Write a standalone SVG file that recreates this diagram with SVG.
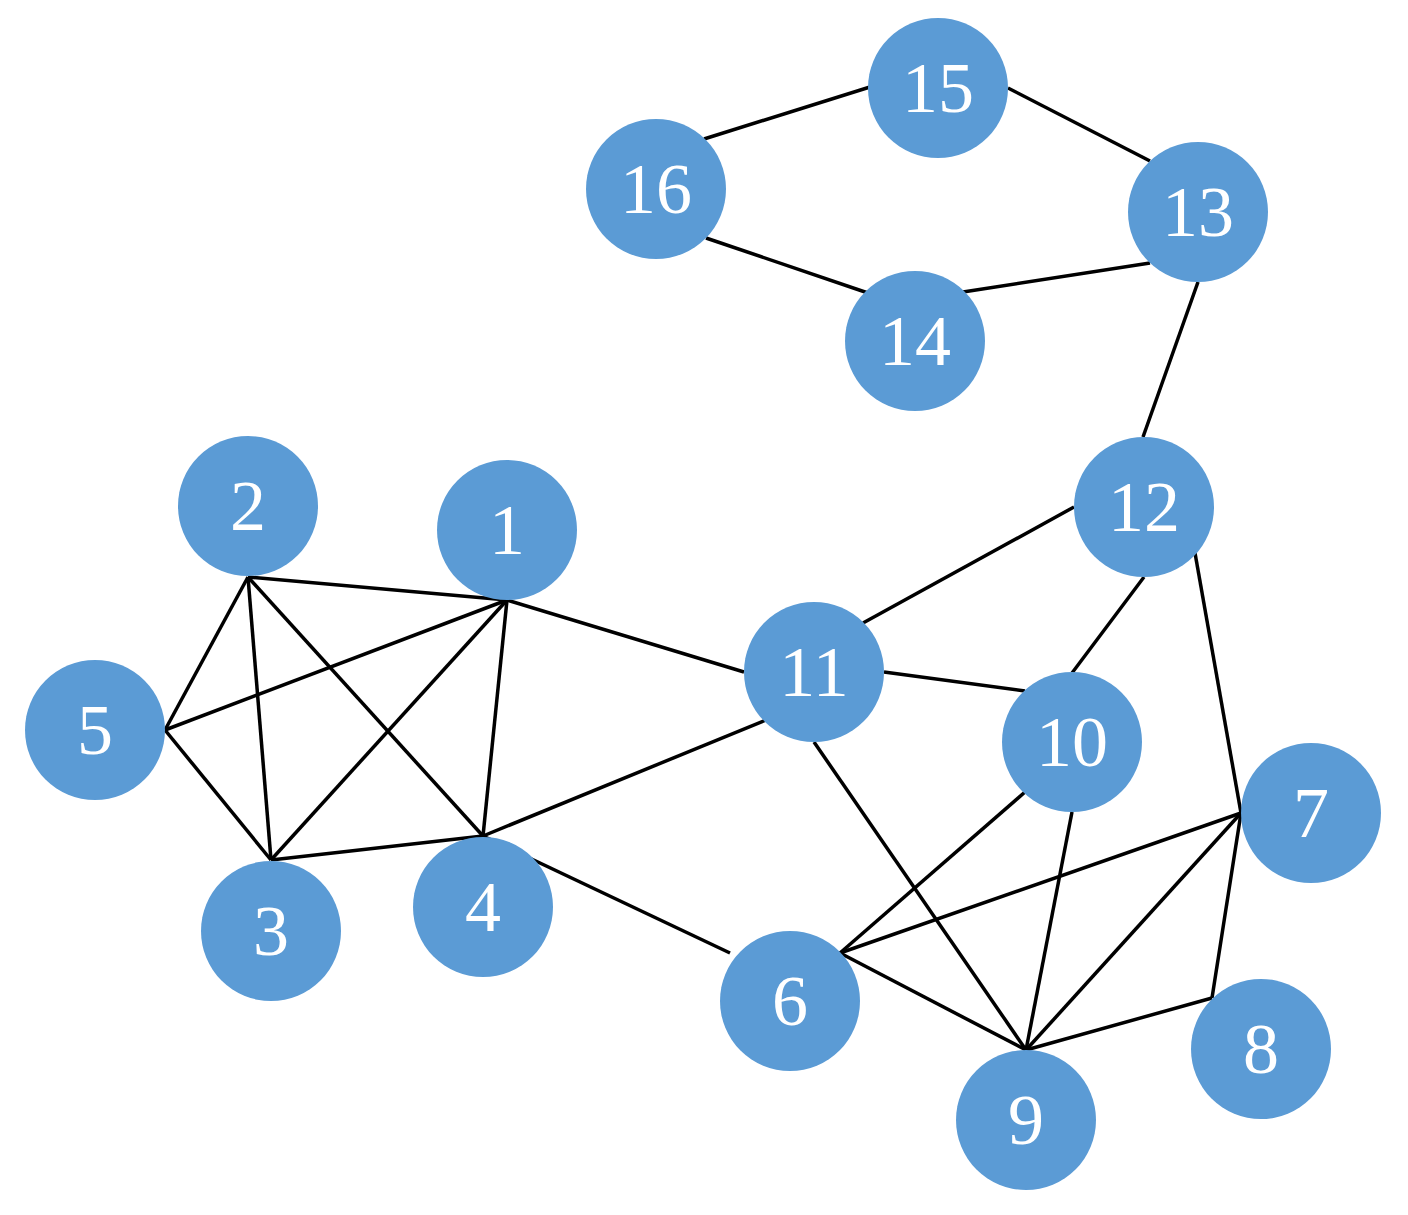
<svg xmlns="http://www.w3.org/2000/svg" width="1408" height="1215" viewBox="0 0 1408 1215">
<style>
.n{fill:#5B9BD5}
.t{fill:#fff;font-family:"Liberation Serif",serif;font-size:72px;text-anchor:middle;dominant-baseline:central}
#edges line{stroke:#000;stroke-width:3.5}
</style>
<rect width="1408" height="1215" fill="#fff"/>
<g id="edges">
<line x1="704" y1="139" x2="870" y2="87"/>
<line x1="1008" y1="88" x2="1150" y2="161"/>
<line x1="706" y1="238" x2="868" y2="293"/>
<line x1="963" y1="292" x2="1150" y2="263"/>
<line x1="1198" y1="282" x2="1143" y2="437"/>
<line x1="1074" y1="507" x2="863" y2="623"/>
<line x1="1144" y1="577" x2="1072" y2="673"/>
<line x1="1195" y1="553" x2="1241" y2="813"/>
<line x1="248" y1="577" x2="507" y2="600"/>
<line x1="248" y1="577" x2="165" y2="730"/>
<line x1="248" y1="577" x2="271" y2="860"/>
<line x1="248" y1="577" x2="483" y2="836"/>
<line x1="507" y1="600" x2="165" y2="730"/>
<line x1="507" y1="600" x2="271" y2="860"/>
<line x1="507" y1="600" x2="483" y2="836"/>
<line x1="507" y1="600" x2="744" y2="672"/>
<line x1="165" y1="730" x2="271" y2="860"/>
<line x1="271" y1="860" x2="483" y2="836"/>
<line x1="483" y1="836" x2="766" y2="720"/>
<line x1="483" y1="836" x2="730" y2="953"/>
<line x1="884" y1="672" x2="1025" y2="691"/>
<line x1="814" y1="742" x2="1026" y2="1050"/>
<line x1="1025" y1="792" x2="840" y2="953"/>
<line x1="1072" y1="812" x2="1026" y2="1050"/>
<line x1="1241" y1="813" x2="840" y2="953"/>
<line x1="1241" y1="813" x2="1026" y2="1050"/>
<line x1="1241" y1="813" x2="1212" y2="998"/>
<line x1="1212" y1="998" x2="1026" y2="1050"/>
<line x1="840" y1="953" x2="1026" y2="1050"/>
</g>
<g id="n15"><circle class="n" cx="938" cy="88" r="70"/><text class="t" x="938" y="88">15</text></g>
<g id="n16"><circle class="n" cx="656" cy="189" r="70"/><text class="t" x="656" y="189">16</text></g>
<g id="n13"><circle class="n" cx="1198" cy="212" r="70"/><text class="t" x="1198" y="212">13</text></g>
<g id="n14"><circle class="n" cx="915" cy="341" r="70"/><text class="t" x="915" y="341">14</text></g>
<g id="n12"><circle class="n" cx="1144" cy="507" r="70"/><text class="t" x="1144" y="507">12</text></g>
<g id="n2"><circle class="n" cx="248" cy="506" r="70"/><text class="t" x="248" y="506">2</text></g>
<g id="n1"><circle class="n" cx="507" cy="530" r="70"/><text class="t" x="507" y="530">1</text></g>
<g id="n11"><circle class="n" cx="814" cy="672" r="70"/><text class="t" x="814" y="672">11</text></g>
<g id="n5"><circle class="n" cx="95" cy="730" r="70"/><text class="t" x="95" y="730">5</text></g>
<g id="n10"><circle class="n" cx="1072" cy="742" r="70"/><text class="t" x="1072" y="742">10</text></g>
<g id="n7"><circle class="n" cx="1311" cy="813" r="70"/><text class="t" x="1311" y="813">7</text></g>
<g id="n3"><circle class="n" cx="271" cy="931" r="70"/><text class="t" x="271" y="931">3</text></g>
<g id="n4"><circle class="n" cx="483" cy="907" r="70"/><text class="t" x="483" y="907">4</text></g>
<g id="n6"><circle class="n" cx="790" cy="1001" r="70"/><text class="t" x="790" y="1001">6</text></g>
<g id="n8"><circle class="n" cx="1261" cy="1049" r="70"/><text class="t" x="1261" y="1049">8</text></g>
<g id="n9"><circle class="n" cx="1026" cy="1120" r="70"/><text class="t" x="1026" y="1120">9</text></g>
</svg>
